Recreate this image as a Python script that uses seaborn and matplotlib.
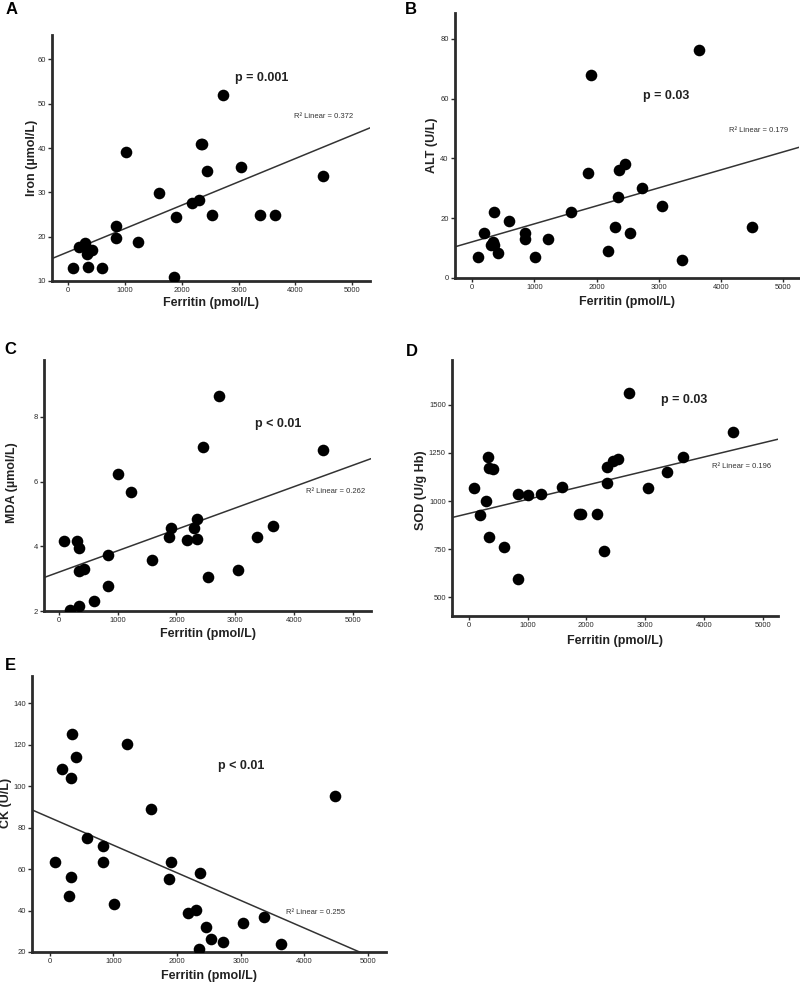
import numpy as np
import pandas as pd
import matplotlib
matplotlib.use("Agg")
import matplotlib.pyplot as plt
import seaborn as sns

# ---------------- data ----------------
ferritin = [84, 189, 299, 336, 341, 346, 420, 593, 840, 840, 1013, 1222, 1590,
            1868, 1905, 2177, 2293, 2345, 2356, 2450, 2534, 2723, 3043, 3374, 3641, 4491]
iron = [13.0, 17.7, 18.6, 16.2, 16.6, 13.2, 17.1, 12.9, 22.5, 19.6, 39.1, 18.9, 29.9,
        10.9, 24.4, 27.5, 28.3, 40.8, 40.8, 34.8, 25.0, 52.0, 35.7, 24.8, 25.0, 33.8]
alt = [7.0, 15.1, 11.0, 12.1, 22.1, 11.0, 8.2, 19.0, 15.1, 13.1, 7.0, 13.1, 22.1,
       35.1, 68.0, 9.1, 17.1, 27.2, 36.1, 38.1, 15.1, 30.1, 24.1, 6.1, 76.1, 17.1]
mda = [4.16, 2.03, 4.16, 3.95, 2.16, 3.23, 3.29, 2.31, 3.72, 2.76, 6.25, 5.69, 3.58,
       4.29, 4.56, 4.19, 4.56, 4.85, 4.23, 7.07, 3.04, 8.64, 3.26, 4.29, 4.62, 6.97]
sod = [1068, 926, 999, 1230, 812, 1171, 1164, 760, 1036, 597, 1029, 1036, 1075,
       930, 930, 933, 739, 1091, 1174, 1209, 1216, 1559, 1068, 1148, 1231, 1356]
ck = [63.2, 108.3, 47.1, 56.1, 104.1, 125.2, 114.2, 75.1, 63.2, 71.2, 43.0, 120.2, 89.1,
      55.0, 63.2, 39.0, 40.1, 21.3, 58.0, 32.1, 26.1, 25.0, 34.0, 36.9, 24.0, 95.2]

letters = ["A", "B", "C", "D", "E"]
ylabels = ["Iron (µmol/L)", "ALT (U/L)", "MDA (µmol/L)", "SOD (U/g Hb)", "CK (U/L)"]
p_texts = ["p = 0.001", "p = 0.03", "p < 0.01", "p = 0.03", "p < 0.01"]
r2_texts = ["R² Linear = 0.372", "R² Linear = 0.179", "R² Linear = 0.262",
            "R² Linear = 0.196", "R² Linear = 0.255"]
yticks = [[10, 20, 30, 40, 50, 60], [0, 20, 40, 60, 80], [2, 4, 6, 8],
          [500, 750, 1000, 1250, 1500], [20, 40, 60, 80, 100, 120, 140]]
xticks = [0, 1000, 2000, 3000, 4000, 5000]
series = [iron, alt, mda, sod, ck]

# ---------------- layout (pixels) ----------------
W, H = 800, 983
boxes = [(52, 35, 370, 281), (455, 13, 799, 278), (44, 360, 371, 611),
         (452, 360, 778, 616), (32, 676, 386, 952)]
xlims = [(-287, 5312), (-278, 5252), (-256, 5314), (-285, 5262), (-279, 5288)]
ylims = [(10, 65.5), (0, 88.6), (2, 9.76), (403, 1732), (20, 153.2)]
letter_pos = [(12, 10), (411, 10), (10, 350), (412, 352), (10, 665)]
p_pos = [(262, 78), (666, 96), (278, 424), (684, 400), (241, 766)]
r2_pos = [(324, 117), (759, 131), (336, 492), (742, 467), (316, 912)]
ylab_pos = [(32, 158), (432, 145), (12, 483), (421, 490), (6, 803)]
xlab_y = [303, 302, 634, 641, 976]

sns.set_theme(style="ticks")
plt.rcParams['font.family'] = ['Liberation Sans', 'DejaVu Sans']

fig = plt.figure(figsize=(W / 100, H / 100), dpi=100)

def fx(x):
    return x / W

def fy(y):
    return 1 - y / H

dark = "#2b2b2b"
for i in range(5):
    l, t, r, b = boxes[i]
    ax = fig.add_axes([fx(l), fy(b), (r - l) / W, (b - t) / H])
    df = pd.DataFrame({"Ferritin": ferritin, "Y": series[i]})
    ax.set_xlim(*xlims[i])
    ax.set_ylim(*ylims[i])
    sns.regplot(data=df, x="Ferritin", y="Y", ax=ax, scatter=False, ci=None,
                truncate=False, line_kws=dict(color="#333333", lw=1.1))
    sns.scatterplot(data=df, x="Ferritin", y="Y", ax=ax, color="black", s=70,
                    edgecolor="black", linewidth=0, zorder=3)
    ax.set_xlim(*xlims[i])
    ax.set_ylim(*ylims[i])
    ax.set_xticks(xticks)
    ax.set_yticks(yticks[i])
    ax.tick_params(axis="both", labelsize=5.5, colors=dark, length=3, width=1,
                   direction="out", pad=1.5)
    for s in ["top", "right"]:
        ax.spines[s].set_visible(False)
    for s in ["left", "bottom"]:
        ax.spines[s].set_linewidth(2)
        ax.spines[s].set_color(dark)
    ax.set_xlabel("")
    ax.set_ylabel("")
    # labels
    cx = (l + r) / 2
    fig.text(fx(cx), fy(xlab_y[i]), "Ferritin (pmol/L)", ha="center", va="center",
             fontsize=9, fontweight="bold", color="#222222")
    fig.text(fx(ylab_pos[i][0]), fy(ylab_pos[i][1]), ylabels[i], ha="center",
             va="center", rotation=90, fontsize=9, fontweight="bold", color="#222222")
    fig.text(fx(letter_pos[i][0]), fy(letter_pos[i][1]), letters[i], ha="center",
             va="center", fontsize=12, fontweight="bold", color="black")
    fig.text(fx(p_pos[i][0]), fy(p_pos[i][1]), p_texts[i], ha="center", va="center",
             fontsize=9, fontweight="bold", color="#222222")
    fig.text(fx(r2_pos[i][0]), fy(r2_pos[i][1]), r2_texts[i], ha="center", va="center",
             fontsize=5.5, color="#333333")

fig.savefig("out.png", dpi=100, facecolor="white")
